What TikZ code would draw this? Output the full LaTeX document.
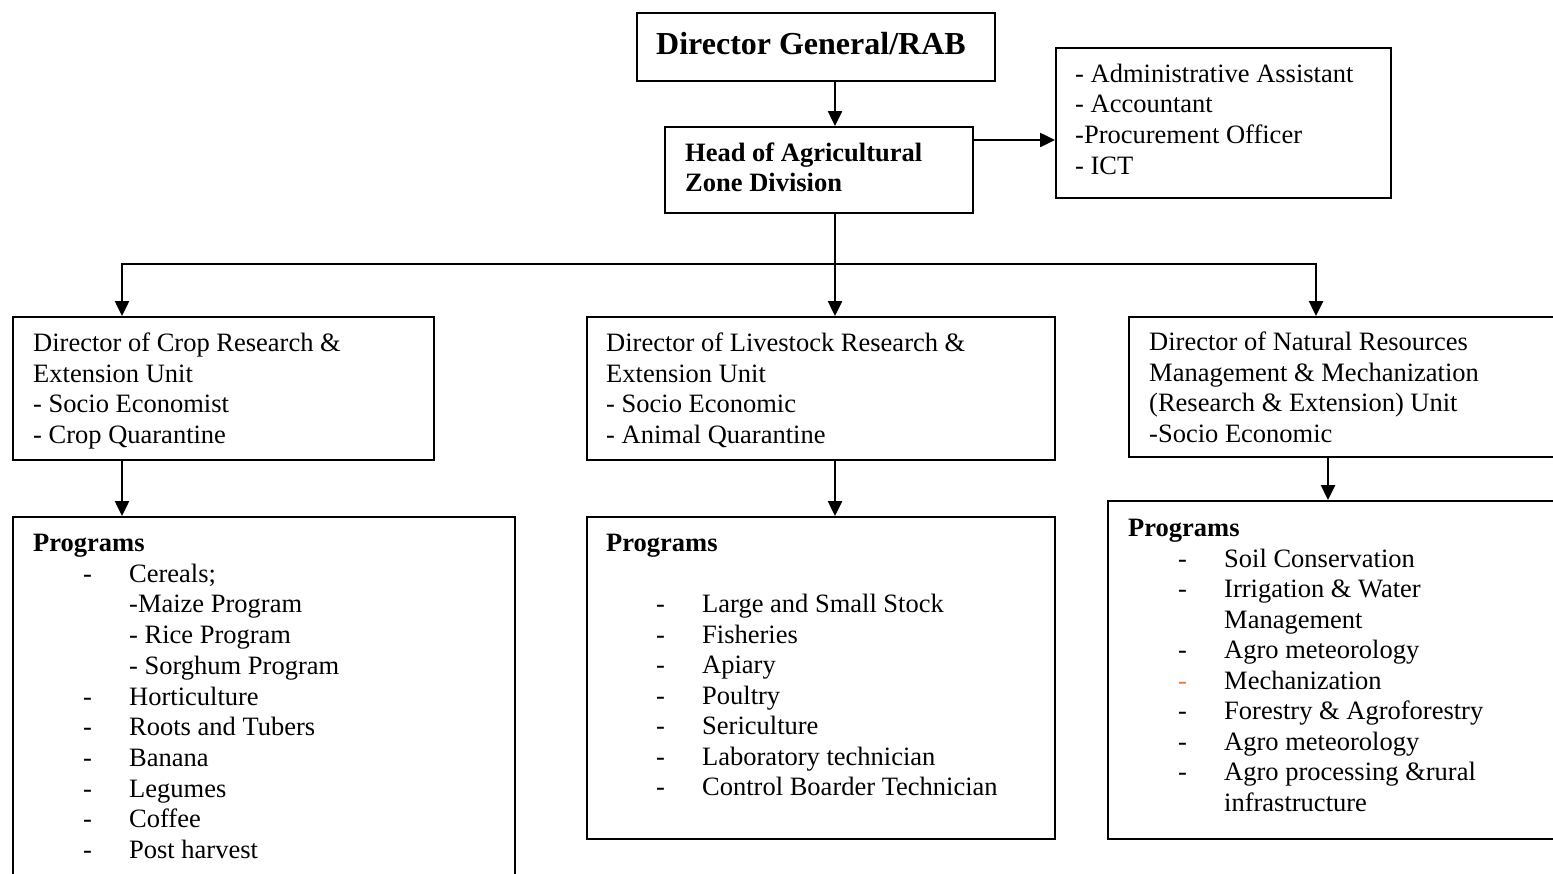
\documentclass[tikz,border=0pt]{standalone}
\usepackage{fontspec}
\setmainfont{Liberation Serif}
\usetikzlibrary{arrows.meta}
\definecolor{dashorange}{RGB}{237,125,49}
\newcommand\itm[2][black]{\hspace*{50pt}\makebox[46pt][l]{\textcolor{#1}{-}}#2}
\newcommand\cnt[1]{\hspace*{96pt}#1}
\newcommand\bodyfont{\fontsize{26.5}{30.5}\selectfont}
\begin{document}
\begin{tikzpicture}[x=1pt,y=-1pt,
  box/.style={draw,line width=2pt,rectangle,inner sep=0pt,anchor=north west},
  txt/.style={anchor=base west,inner sep=0pt,font=\bodyfont},
  conn/.style={line width=2.5pt,-{Triangle[length=15pt,width=14pt]}},
  plain/.style={line width=2.5pt}]
\useasboundingbox (0,0) rectangle (1553,873);
\begin{scope}
\clip (0,0) rectangle (1553,873);
% boxes
\node[box,minimum width=358pt,minimum height=68pt] (dg) at (636,12) {};
\node[box,minimum width=308pt,minimum height=86pt] (head) at (664,126) {};
\node[box,minimum width=335pt,minimum height=150pt] (adm) at (1055,47) {};
\node[box,minimum width=421pt,minimum height=143pt] (crop) at (12,316) {};
\node[box,minimum width=468pt,minimum height=143pt] (live) at (586,316) {};
\node[box,minimum width=460pt,minimum height=140pt] (nrm) at (1128,316) {};
\node[box,minimum width=502pt,minimum height=400pt] (cropp) at (12,516) {};
\node[box,minimum width=468pt,minimum height=322pt] (livep) at (586,516) {};
\node[box,minimum width=480pt,minimum height=338pt] (nrmp) at (1107,500) {};
\end{scope}
% texts
\node[anchor=base west,inner sep=0pt,font=\fontsize{32}{36}\selectfont\bfseries] (dgt) at (656,54) {Director General/RAB};
\node[txt,font=\bodyfont\bfseries] (headt) at (685,161) {\parbox[t]{280pt}{\raggedright Head of Agricultural\\Zone Division}};
\node[txt] (admt) at (1075,82) {\parbox[t]{320pt}{\raggedright\baselineskip=30.8pt - Administrative Assistant\\- Accountant\\-Procurement Officer\\- ICT}};
\node[txt] (cropt) at (33,351.5) {\parbox[t]{400pt}{\raggedright Director of Crop Research \&\\Extension Unit\\- Socio Economist\\- Crop Quarantine}};
\node[txt] (livet) at (606,351.5) {\parbox[t]{440pt}{\raggedright Director of Livestock Research \&\\Extension Unit\\- Socio Economic\\- Animal Quarantine}};
\node[txt] (nrmt) at (1149,350.5) {\parbox[t]{400pt}{\raggedright Director of Natural Resources\\Management \& Mechanization\\(Research \& Extension) Unit\\-Socio Economic}};
\node[txt] (croppt) at (33,551.5) {\parbox[t]{480pt}{\raggedright\baselineskip=30.7pt \textbf{Programs}\\
\itm{Cereals;}\\
\cnt{-Maize Program}\\
\cnt{- Rice Program}\\
\cnt{- Sorghum Program}\\
\itm{Horticulture}\\
\itm{Roots and Tubers}\\
\itm{Banana}\\
\itm{Legumes}\\
\itm{Coffee}\\
\itm{Post harvest}}};
\node[txt] (livept) at (606,551.5) {\parbox[t]{440pt}{\raggedright \textbf{Programs}\\
\strut\\
\itm{Large and Small Stock}\\
\itm{Fisheries}\\
\itm{Apiary}\\
\itm{Poultry}\\
\itm{Sericulture}\\
\itm{Laboratory technician}\\
\itm{Control Boarder Technician}}};
\node[txt] (nrmpt) at (1128,536.5) {\parbox[t]{420pt}{\raggedright \textbf{Programs}\\
\itm{Soil Conservation}\\
\itm{Irrigation \& Water}\\
\cnt{Management}\\
\itm{Agro meteorology}\\
\itm[dashorange]{Mechanization}\\
\itm{Forestry \& Agroforestry}\\
\itm{Agro meteorology}\\
\itm{Agro processing \&rural}\\
\cnt{infrastructure}}};
% connectors
\coordinate (jn) at (835,264);
\coordinate (jl) at (122,264);
\coordinate (jr) at (1316,264);
\draw[conn] (dg.south -| 835,0) -- (head.north -| 835,0);
\draw[conn] (head.east |- 0,140) -- (adm.west |- 0,140);
\draw[plain] (head.south -| jn) -- (jn);
\draw[plain,line cap=rect] (jl) -- (jr);
\draw[conn] (jl) -- (crop.north -| jl);
\draw[conn] (jn) -- (live.north -| jn);
\draw[conn] (jr) -- (nrm.north -| jr);
\draw[conn] (crop.south -| 122,0) -- (cropp.north -| 122,0);
\draw[conn] (live.south -| 835,0) -- (livep.north -| 835,0);
\draw[conn] (nrm.south -| 1328,0) -- (nrmp.north -| 1328,0);
\end{tikzpicture}
\end{document}
